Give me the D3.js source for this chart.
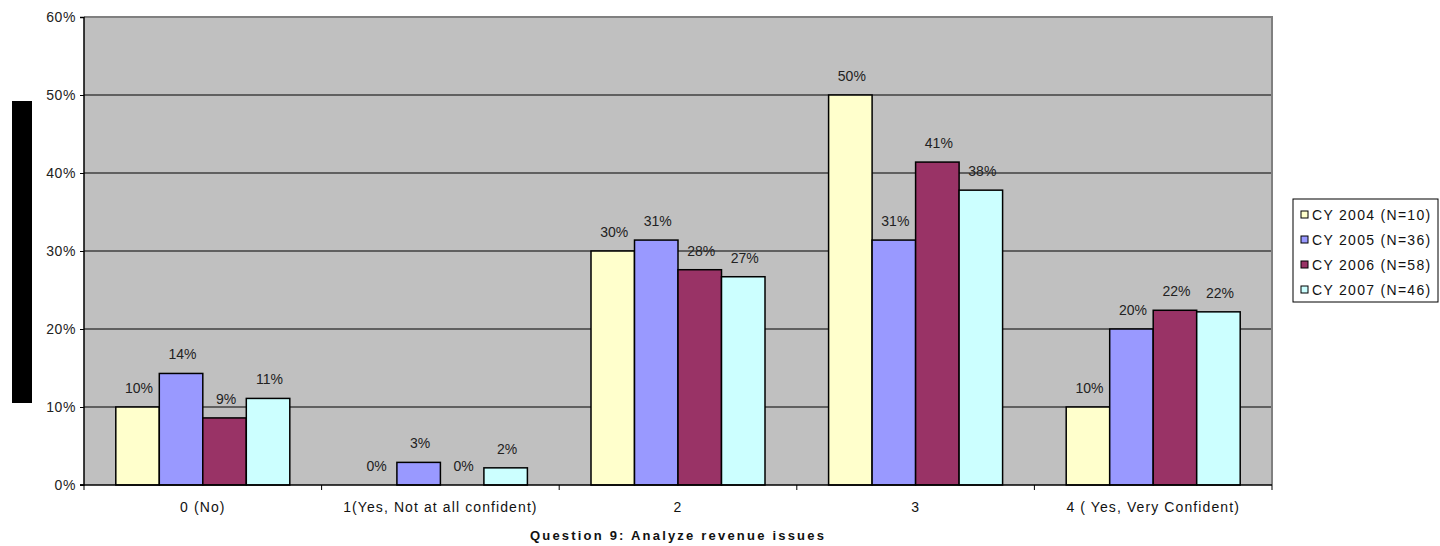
<!DOCTYPE html>
<html>
<head>
<meta charset="utf-8">
<script src="https://cdn.jsdelivr.net/npm/d3@7"></script>
<style>
body { margin: 0; background: #fff; }
svg { display: block; font-family: "Liberation Sans", Arial, sans-serif; }
</style>
</head>
<body>
<svg id="chart" width="1440" height="546"></svg>
<script>
var categories = ["0 (No)", "1(Yes, Not at all confident)", "2", "3", "4 ( Yes, Very Confident)"];
var seriesNames = ["CY 2004 (N=10)", "CY 2005 (N=36)", "CY 2006 (N=58)", "CY 2007 (N=46)"];
var seriesColors = ["#FFFFCC", "#9999FF", "#993366", "#CCFFFF"];
var cy2004 = [10, 0, 30, 50, 10];
var cy2005 = [14.3, 2.9, 31.4, 31.4, 20.0];
var cy2006 = [8.6, 0, 27.6, 41.4, 22.4];
var cy2007 = [11.1, 2.2, 26.7, 37.8, 22.2];
var yTicks = [0, 10, 20, 30, 40, 50, 60];
var xTitle = "Question 9: Analyze revenue issues";

var series = [cy2004, cy2005, cy2006, cy2007];

var svg = d3.select("#chart");

var margin = {top: 17, left: 84, right: 168, bottom: 61};
var width = 1440 - margin.left - margin.right;
var height = 546 - margin.top - margin.bottom;

var x0 = d3.scaleBand().domain(categories).range([0, width]).paddingInner(0).paddingOuter(0);
var x1 = d3.scaleBand().domain(d3.range(series.length))
    .range([31.8, x0.bandwidth() - 31.8]).padding(0);
var y = d3.scaleLinear().domain([0, 60]).range([height, 0]);

var g = svg.append("g")
    .attr("transform", "translate(" + margin.left + "," + margin.top + ")");

// plot background
g.append("rect")
    .attr("width", width)
    .attr("height", height)
    .style("fill", "#C0C0C0");

// gridlines
g.selectAll(".grid")
    .data(yTicks.slice(1, -1))
    .enter().append("line")
    .attr("x1", 0)
    .attr("x2", width)
    .attr("y1", function(d) { return y(d); })
    .attr("y2", function(d) { return y(d); })
    .style("stroke", "#000")
    .style("stroke-width", 1);

// plot border (top and right)
g.append("path")
    .attr("d", "M0,0H" + width + "V" + height)
    .style("fill", "none")
    .style("stroke", "#808080")
    .style("stroke-width", 2);

// bars
var groups = g.selectAll(".grp")
    .data(categories)
    .enter().append("g")
    .attr("transform", function(d) { return "translate(" + x0(d) + ",0)"; });

groups.each(function(c, ci) {
    var grp = d3.select(this);
    series.forEach(function(s, si) {
        var v = s[ci];
        if (v > 0) {
            grp.append("rect")
                .attr("x", x1(si))
                .attr("y", y(v))
                .attr("width", x1.bandwidth())
                .attr("height", y(0) - y(v))
                .style("fill", seriesColors[si])
                .style("stroke", "#000")
                .style("stroke-width", 1.5);
        }
        grp.append("text")
            .attr("x", x1(si) + x1.bandwidth() / 2 + 1.5)
            .attr("y", y(v) - 14)
            .attr("text-anchor", "middle")
            .style("font-size", "14px")
            .style("fill", "#222")
            .text(Math.round(v) + "%");
    });
});

// y axis
var yAxis = d3.axisLeft(y)
    .tickValues(yTicks)
    .tickSize(4)
    .tickFormat(function(d) { return d + "%"; });

var ya = g.append("g").call(yAxis);
ya.select(".domain").style("stroke", "#000").style("stroke-width", 1.5)
    .attr("d", "M-4,0.5H0V" + height + "H-4");
ya.selectAll(".tick line").style("stroke", "#000");
ya.selectAll(".tick text")
    .attr("x", -8)
    .style("font-family", "Liberation Sans, Arial, sans-serif")
    .style("font-size", "14px")
    .style("letter-spacing", "0.6px")
    .style("fill", "#222");

// x axis
var xa = g.append("g").attr("transform", "translate(0," + height + ")");
xa.append("line")
    .attr("x1", -4).attr("x2", width)
    .style("stroke", "#000").style("stroke-width", 1.5);
xa.selectAll(".xtick")
    .data(d3.range(categories.length + 1))
    .enter().append("line")
    .attr("x1", function(i) { return i * x0.bandwidth(); })
    .attr("x2", function(i) { return i * x0.bandwidth(); })
    .attr("y1", 0).attr("y2", 5)
    .style("stroke", "#000");
xa.selectAll(".xlab")
    .data(categories)
    .enter().append("text")
    .attr("x", function(d) { return x0(d) + x0.bandwidth() / 2; })
    .attr("y", 27)
    .attr("text-anchor", "middle")
    .style("font-size", "14px")
    .style("letter-spacing", "1.1px")
    .style("fill", "#111")
    .text(function(d) { return d; });

// x title
svg.append("text")
    .attr("x", margin.left + width / 2)
    .attr("y", 540)
    .attr("text-anchor", "middle")
    .style("font-size", "13px")
    .style("font-weight", "bold")
    .style("letter-spacing", "2.2px")
    .style("fill", "#111")
    .text(xTitle);

// obscured y-axis title block
svg.append("rect")
    .attr("x", 12).attr("y", 101)
    .attr("width", 20).attr("height", 302)
    .style("fill", "#000");

// legend
var legend = svg.append("g").attr("transform", "translate(1293,199)");
legend.append("rect")
    .attr("width", 145).attr("height", 103)
    .style("fill", "#fff")
    .style("stroke", "#000")
    .style("stroke-width", 1);
seriesNames.forEach(function(name, i) {
    var ly = 16 + i * 25;
    legend.append("rect")
        .attr("x", 8).attr("y", ly - 4)
        .attr("width", 7).attr("height", 7)
        .style("fill", seriesColors[i])
        .style("stroke", "#000")
        .style("stroke-width", 1);
    legend.append("text")
        .attr("x", 19).attr("y", ly + 5)
        .style("font-size", "14px")
        .style("letter-spacing", "1.3px")
        .style("fill", "#111")
        .text(name);
});
</script>
</body>
</html>
